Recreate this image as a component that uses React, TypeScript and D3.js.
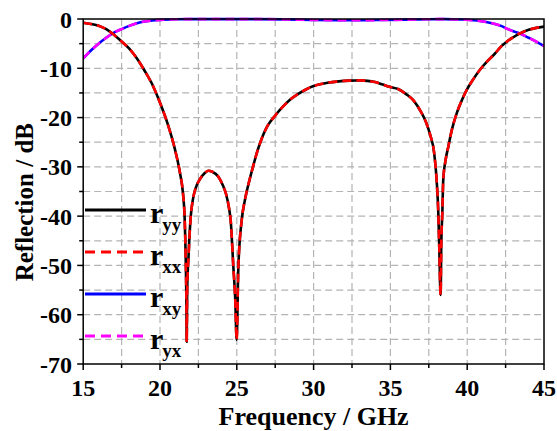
import React from "react";
import * as d3 from "d3";

const freqCo = [15.0, 15.5, 16.0, 16.5, 17.0, 17.5, 18.0, 18.5, 19.0, 19.5, 20.0, 20.5, 21.0, 21.3, 21.5, 21.6, 21.67, 21.72, 21.74, 21.77, 21.86, 21.99, 22.15, 22.3, 22.6, 22.9, 23.15, 23.4, 23.8, 24.1, 24.3, 24.5, 24.6, 24.77, 24.9, 24.99, 25.1, 25.32, 25.53, 25.8, 26.07, 26.3, 26.5, 26.75, 27.0, 27.5, 28.0, 28.5, 29.0, 29.5, 30.0, 30.5, 31.0, 31.5, 32.0, 32.5, 33.0, 33.5, 34.0, 34.5, 35.0, 35.5, 36.0, 36.5, 37.0, 37.3, 37.6, 37.85, 38.01, 38.12, 38.18, 38.27, 38.31, 38.38, 38.44, 38.6, 38.77, 39.0, 39.32, 39.65, 39.97, 40.4, 40.83, 41.3, 41.81, 42.2, 42.57, 43.0, 43.44, 44.0, 44.5, 45.0];
const ryy = [-0.75, -1.0, -1.35, -2.05, -3.2, -4.55, -6.0, -8.0, -10.5, -13.3, -17.0, -21.3, -26.8, -31.2, -35.5, -40.0, -48.0, -58.0, -65.5, -55.0, -48.0, -40.5, -36.5, -34.5, -32.5, -31.3, -30.8, -31.0, -32.0, -33.8, -35.5, -38.5, -40.8, -50.0, -57.0, -65.1, -50.5, -40.8, -36.7, -33.0, -29.8, -27.2, -25.3, -23.3, -21.7, -19.6, -17.8, -16.3, -15.2, -14.3, -13.6, -13.2, -12.9, -12.7, -12.55, -12.5, -12.45, -12.55, -12.8, -13.3, -13.8, -14.2, -15.2, -16.5, -18.9, -20.8, -23.6, -27.2, -32.7, -39.4, -46.2, -56.0, -46.2, -39.4, -32.7, -28.5, -25.9, -22.5, -19.1, -16.5, -14.4, -12.2, -10.3, -8.6, -7.0, -5.6, -4.6, -3.7, -2.9, -2.2, -1.8, -1.55];
const rxx = ryy.slice();

const freqCross = [15.0, 15.5, 16.0, 16.5, 17.0, 17.5, 18.0, 18.5, 19.0, 19.5, 20.0, 21.0, 22.0, 24.0, 26.0, 28.0, 30.0, 31.5, 33.0, 34.5, 36.0, 37.5, 38.5, 39.5, 40.0, 40.4, 40.83, 41.3, 41.81, 42.2, 42.57, 43.0, 43.44, 44.0, 44.5, 45.0];
const rxy = [-8.0, -6.4, -5.0, -3.8, -2.75, -2.05, -1.4, -0.85, -0.5, -0.3, -0.18, -0.06, -0.02, -0.02, -0.02, -0.07, -0.19, -0.24, -0.25, -0.2, -0.13, -0.04, -0.03, -0.1, -0.16, -0.26, -0.41, -0.65, -1.0, -1.4, -1.95, -2.5, -2.95, -3.8, -4.6, -5.5];
const ryx = rxy.slice();

const xTicks = [15, 20, 25, 30, 35, 40, 45];
const yTicks = [0, -10, -20, -30, -40, -50, -60, -70];
const legendNames = ["yy", "xx", "xy", "yx"];

const W = 557, H = 431;
const L = 83.2, R = 544, T = 19, B = 364;
const FONT = "Liberation Serif, Tinos, DejaVu Serif, Times New Roman, serif";

export default function App() {
  const x = d3.scaleLinear().domain([15, 45]).range([L, R]);
  const y = d3.scaleLinear().domain([-70, 0]).range([B, T]);
  const gridX = d3.range(17.5, 45, 2.5);
  const gridY = d3.range(-65, 0, 5);
  const minorX = d3.range(17.5, 45, 5);
  const minorY = d3.range(-65, 0, 10);

  const lineGen = (fs: number[], vs: number[]) =>
    d3.line<number>().x((_, i) => x(fs[i])).y((v) => y(v)).curve(d3.curveMonotoneX)(vs) || "";

  const series = [
    { fs: freqCross, vs: rxy, color: "#0000ff", dash: null },
    { fs: freqCross, vs: ryx, color: "#ff00ff", dash: "9,5" },
    { fs: freqCo, vs: ryy, color: "#000000", dash: null },
    { fs: freqCo, vs: rxx, color: "#ff0000", dash: "9,5" },
  ];
  const legendStyles = [
    { color: "#000000", dash: null },
    { color: "#ff0000", dash: "10,6" },
    { color: "#0000ff", dash: null },
    { color: "#ff00ff", dash: "10,6" },
  ];

  return (
    <svg width={W} height={H} style={{ position: "absolute", left: 0, top: 0, background: "#fff" }}>
      <defs>
        <clipPath id="plotclip">
          <rect x={L} y={T - 2} width={R - L} height={B - T + 2} />
        </clipPath>
      </defs>
      {gridX.map((g) => (
        <line key={"gx" + g} x1={x(g)} x2={x(g)} y1={T} y2={B} stroke="#b4b4b4" strokeWidth={1.2} strokeDasharray="7,4" />
      ))}
      {gridY.map((g) => (
        <line key={"gy" + g} x1={L} x2={R} y1={y(g)} y2={y(g)} stroke="#b4b4b4" strokeWidth={1.2} strokeDasharray="7,4" />
      ))}
      <g clipPath="url(#plotclip)">
        {series.map((s, i) => (
          <path key={i} d={lineGen(s.fs, s.vs)} fill="none" stroke={s.color} strokeWidth={2.6}
            strokeDasharray={s.dash || undefined} strokeLinejoin="round" />
        ))}
      </g>
      <rect x={L} y={T} width={R - L} height={B - T} fill="none" stroke="#000" strokeWidth={1.5} />
      {xTicks.map((t) => (
        <line key={"xt" + t} x1={x(t)} x2={x(t)} y1={B} y2={B + 6} stroke="#000" strokeWidth={1.5} />
      ))}
      {minorX.map((t) => (
        <line key={"xm" + t} x1={x(t)} x2={x(t)} y1={B} y2={B + 4} stroke="#000" strokeWidth={1.5} />
      ))}
      {yTicks.map((t) => (
        <line key={"yt" + t} x1={L - 6} x2={L} y1={y(t)} y2={y(t)} stroke="#000" strokeWidth={1.5} />
      ))}
      {minorY.map((t) => (
        <line key={"ym" + t} x1={L - 4} x2={L} y1={y(t)} y2={y(t)} stroke="#000" strokeWidth={1.5} />
      ))}
      <g fontFamily={FONT} fontWeight="bold">
        {xTicks.map((t) => (
          <text key={"xl" + t} x={x(t)} y={396} textAnchor="middle" fontSize={24}>{t}</text>
        ))}
        {yTicks.map((t) => (
          <text key={"yl" + t} x={72} y={y(t) + 8.5} textAnchor="end" fontSize={24}>{t}</text>
        ))}
        <text x={(L + R) / 2} y={425} textAnchor="middle" fontSize={26}>Frequency / GHz</text>
        <text transform="translate(33, 123) rotate(-90)" textAnchor="end" fontSize={25}>Reflection / dB</text>
        {legendNames.map((n, i) => {
          const ly = 210 + i * 42;
          const st = legendStyles[i];
          return (
            <g key={"lg" + n}>
              <line x1={85} x2={146} y1={ly} y2={ly} stroke={st.color} strokeWidth={2.8} strokeDasharray={st.dash || undefined} />
              <text x={150} y={ly + 13} fontSize={30}>
                r<tspan dx={-1} dy={8} fontSize={19}>{n}</tspan>
              </text>
            </g>
          );
        })}
      </g>
    </svg>
  );
}
